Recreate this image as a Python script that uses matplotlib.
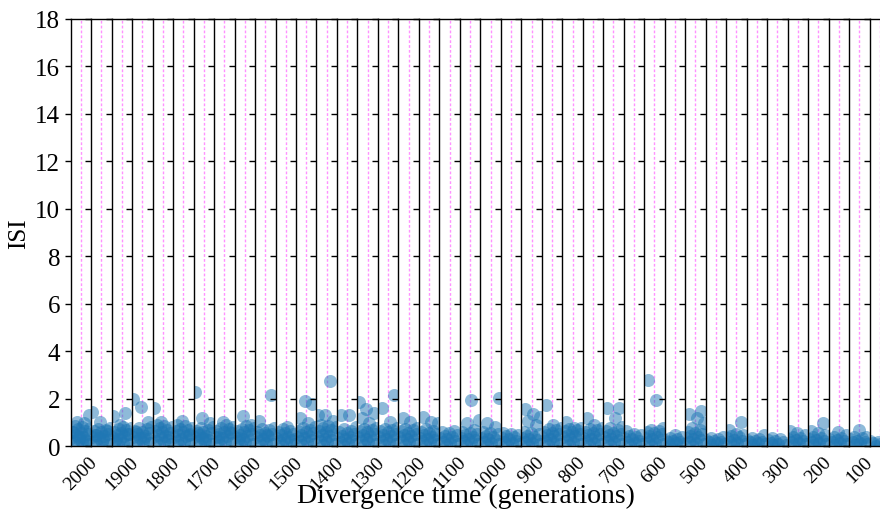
import numpy as np
import matplotlib
matplotlib.use('Agg')
import matplotlib.pyplot as plt

plt.rcParams['font.family'] = ['Liberation Serif', 'DejaVu Serif']

generations = [2000, 1950, 1900, 1850, 1800, 1750, 1700, 1650, 1600, 1550,
               1500, 1450, 1400, 1350, 1300, 1250, 1200, 1150, 1100, 1050,
               1000, 950, 900, 850, 800, 750, 700, 650, 600, 550,
               500, 450, 400, 350, 300, 250, 200, 150, 100, 50]

# ISI values per divergence time
isi = [
    [0.04, 0.1, 0.15, 0.2, 0.26, 0.3, 0.35, 0.4, 0.45, 0.5, 0.55, 0.6, 0.65, 0.7, 0.75, 0.8, 0.85, 0.22, 0.38, 0.58, 0.95, 1.0, 1.31],
    [0.05, 0.1, 0.16, 0.21, 0.27, 0.32, 0.37, 0.43, 0.48, 0.52, 0.57, 0.62, 0.68, 0.72, 0.78, 0.3, 0.45, 0.65, 1.03, 1.42],
    [0.03, 0.09, 0.14, 0.2, 0.25, 0.31, 0.36, 0.41, 0.46, 0.5, 0.56, 0.61, 0.66, 0.71, 0.77, 0.82, 0.28, 0.52, 0.9, 1.28, 1.39],
    [0.04, 0.11, 0.17, 0.22, 0.28, 0.33, 0.39, 0.44, 0.49, 0.54, 0.6, 0.65, 0.7, 0.75, 0.8, 0.35, 0.58, 1.03, 1.66, 1.98],
    [0.05, 0.1, 0.16, 0.22, 0.27, 0.32, 0.38, 0.43, 0.48, 0.53, 0.58, 0.63, 0.69, 0.74, 0.8, 0.86, 0.9, 0.4, 1.0, 1.6],
    [0.03, 0.09, 0.15, 0.2, 0.26, 0.31, 0.36, 0.42, 0.47, 0.52, 0.57, 0.62, 0.67, 0.72, 0.78, 0.84, 0.9, 0.45, 1.07],
    [0.04, 0.1, 0.16, 0.21, 0.27, 0.32, 0.37, 0.42, 0.47, 0.53, 0.58, 0.63, 0.68, 0.74, 0.8, 0.3, 0.55, 0.95, 1.18, 2.29],
    [0.05, 0.11, 0.17, 0.22, 0.28, 0.33, 0.38, 0.43, 0.49, 0.54, 0.59, 0.64, 0.7, 0.76, 0.82, 0.88, 0.4, 0.6, 1.0],
    [0.04, 0.1, 0.15, 0.2, 0.26, 0.31, 0.36, 0.42, 0.47, 0.52, 0.57, 0.62, 0.67, 0.73, 0.78, 0.84, 0.35, 0.9, 1.25],
    [0.03, 0.09, 0.14, 0.2, 0.25, 0.3, 0.36, 0.41, 0.46, 0.51, 0.56, 0.61, 0.66, 0.72, 0.78, 0.45, 1.07, 2.15],
    [0.04, 0.1, 0.15, 0.2, 0.25, 0.3, 0.35, 0.4, 0.45, 0.5, 0.55, 0.6, 0.65, 0.7, 0.3, 0.8],
    [0.05, 0.1, 0.16, 0.21, 0.27, 0.32, 0.37, 0.42, 0.48, 0.53, 0.58, 0.63, 0.68, 0.74, 0.8, 0.98, 1.2, 1.77, 1.91],
    [0.04, 0.1, 0.15, 0.21, 0.26, 0.31, 0.37, 0.42, 0.47, 0.52, 0.58, 0.63, 0.68, 0.74, 0.8, 0.86, 0.9, 1.07, 1.3, 1.3, 2.75],
    [0.03, 0.09, 0.14, 0.19, 0.24, 0.29, 0.34, 0.39, 0.44, 0.49, 0.54, 0.59, 0.64, 0.7, 0.8, 1.31, 1.31],
    [0.05, 0.1, 0.16, 0.21, 0.26, 0.31, 0.36, 0.41, 0.47, 0.52, 0.57, 0.62, 0.67, 0.7, 0.78, 0.95, 1.17, 1.39, 1.56, 1.84],
    [0.04, 0.1, 0.15, 0.2, 0.26, 0.31, 0.36, 0.41, 0.46, 0.51, 0.57, 0.62, 0.67, 0.72, 0.78, 1.0, 1.6, 2.17],
    [0.03, 0.09, 0.15, 0.2, 0.25, 0.31, 0.36, 0.41, 0.46, 0.51, 0.56, 0.62, 0.67, 0.7, 0.78, 1.0, 1.17],
    [0.04, 0.1, 0.15, 0.2, 0.25, 0.3, 0.35, 0.4, 0.45, 0.5, 0.55, 0.6, 0.65, 0.72, 0.95, 1.0, 1.21],
    [0.03, 0.08, 0.13, 0.18, 0.23, 0.28, 0.33, 0.38, 0.43, 0.48, 0.53, 0.57, 0.62],
    [0.04, 0.1, 0.15, 0.2, 0.25, 0.3, 0.35, 0.4, 0.45, 0.5, 0.55, 0.6, 0.66, 0.95, 1.1, 1.95],
    [0.03, 0.08, 0.13, 0.19, 0.24, 0.29, 0.34, 0.39, 0.44, 0.49, 0.54, 0.58, 0.8, 0.98, 2.01],
    [0.03, 0.08, 0.13, 0.18, 0.23, 0.28, 0.33, 0.38, 0.43, 0.48, 0.52, 0.55],
    [0.04, 0.09, 0.14, 0.19, 0.24, 0.29, 0.34, 0.39, 0.44, 0.49, 0.54, 0.6, 0.87, 1.07, 1.24, 1.35, 1.56],
    [0.04, 0.1, 0.15, 0.2, 0.25, 0.3, 0.36, 0.41, 0.46, 0.51, 0.56, 0.61, 0.66, 0.72, 0.75, 0.87, 1.73],
    [0.05, 0.1, 0.15, 0.2, 0.26, 0.31, 0.36, 0.41, 0.46, 0.52, 0.57, 0.62, 0.67, 0.72, 0.75, 0.77, 1.0],
    [0.04, 0.09, 0.14, 0.2, 0.25, 0.3, 0.35, 0.4, 0.45, 0.5, 0.56, 0.61, 0.66, 0.72, 0.75, 0.87, 1.16],
    [0.04, 0.1, 0.15, 0.2, 0.25, 0.3, 0.36, 0.41, 0.46, 0.51, 0.56, 0.62, 0.68, 0.74, 0.8, 1.16, 1.6, 1.6],
    [0.03, 0.08, 0.13, 0.18, 0.23, 0.28, 0.33, 0.38, 0.42, 0.47, 0.52, 0.63],
    [0.04, 0.09, 0.14, 0.19, 0.24, 0.29, 0.34, 0.39, 0.44, 0.5, 0.55, 0.6, 0.63, 0.68, 0.75, 1.94, 2.8],
    [0.03, 0.07, 0.11, 0.15, 0.19, 0.23, 0.27, 0.31, 0.35, 0.4, 0.46],
    [0.04, 0.09, 0.14, 0.19, 0.24, 0.29, 0.34, 0.39, 0.44, 0.5, 0.55, 0.6, 0.67, 0.77, 0.95, 1.2, 1.35, 1.46],
    [0.03, 0.07, 0.11, 0.15, 0.19, 0.23, 0.27, 0.31, 0.35, 0.39],
    [0.03, 0.08, 0.13, 0.17, 0.22, 0.27, 0.32, 0.37, 0.42, 0.47, 0.5, 0.67, 1.0],
    [0.03, 0.07, 0.11, 0.15, 0.19, 0.23, 0.27, 0.31, 0.35, 0.46],
    [0.03, 0.06, 0.1, 0.14, 0.18, 0.22, 0.26, 0.3, 0.35],
    [0.03, 0.07, 0.12, 0.16, 0.21, 0.26, 0.3, 0.35, 0.4, 0.45, 0.53, 0.63],
    [0.03, 0.07, 0.12, 0.16, 0.21, 0.26, 0.3, 0.35, 0.4, 0.45, 0.53, 0.63, 0.96],
    [0.03, 0.07, 0.12, 0.16, 0.21, 0.25, 0.3, 0.35, 0.4, 0.45, 0.58],
    [0.03, 0.07, 0.11, 0.15, 0.19, 0.23, 0.28, 0.32, 0.36, 0.4, 0.69],
    [0.02, 0.05, 0.08, 0.11, 0.14, 0.17, 0.2],
]

fig, axes = plt.subplots(1, len(generations), sharey=True, figsize=(8.8, 5.1), dpi=100)
fig.subplots_adjust(left=0.0803, right=1.0114, top=0.9608, bottom=0.1235, wspace=0)

for i, ax in enumerate(axes):
    vals = np.array(isi[i])
    n = len(vals)
    # spread points across the panel width (strip-plot style)
    jit = ((np.arange(n) * 0.618034 + 0.3) % 1.0 - 0.5) * 0.95
    ax.scatter(jit, vals, s=88, color='#1f77b4', alpha=0.5, linewidths=0, zorder=2)
    ax.axvline(0, color='#ff77ff', ls=(0, (2, 1.5)), lw=1.0, alpha=0.8, zorder=1)
    ax.set_xlim(-0.5, 0.5)
    ax.set_ylim(0, 18)
    ax.set_yticks(range(0, 19, 2))
    ax.tick_params(axis='y', direction='out', length=4, width=1, color='black')
    ax.tick_params(axis='x', length=0, labelsize=14, pad=5)
    if i % 2 == 0:
        ax.set_xticks([0])
        ax.set_xticklabels([str(generations[i])], rotation=45)
    else:
        ax.set_xticks([])
    ax.spines['right'].set_visible(False)
    for s in ['left', 'top', 'bottom']:
        ax.spines[s].set_color('black')
        ax.spines[s].set_linewidth(1.0)
    if i > 0:
        ax.tick_params(axis='y', labelleft=False)
    else:
        ax.tick_params(axis='y', labelsize=18)

axes[0].set_ylabel('ISI', fontsize=18, labelpad=4)
fig.text(466 / 880, 0.027, 'Divergence time (generations)', ha='center', va='center', fontsize=20)

plt.savefig('out.png', dpi=100)
